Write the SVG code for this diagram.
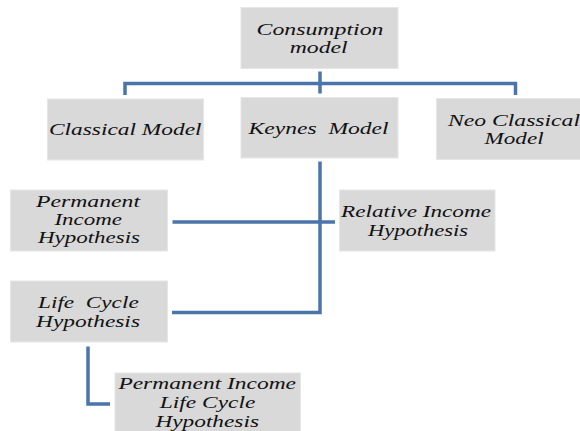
<svg xmlns="http://www.w3.org/2000/svg" width="580" height="431" viewBox="0 0 580 431">
<style>
.box{fill:#d9d9d9;stroke:#e6e6e6;stroke-width:1}
.t{font-family:"Liberation Serif","Times New Roman",serif;font-style:italic;font-size:17.5px;fill:#111}
.c{fill:none;stroke:#4a74aa;stroke-width:3.5;stroke-linejoin:miter;stroke-linecap:butt}
</style>
<rect width="580" height="431" fill="#fff"/>
<g id="connectors">
<path class="c" d="M125,95 V83.5 H515.5 V95"/>
<path class="c" d="M320,71.5 V93.5"/>
<path class="c" d="M320,161.5 V312.5 H172"/>
<path class="c" d="M172.5,222 H335"/>
<path class="c" d="M88,346.5 V404 H110"/>
</g>
<g id="consumption">
<rect class="box" x="241" y="7.5" width="157" height="61"/>
<text class="t" x="256.5" y="35" textLength="127" lengthAdjust="spacingAndGlyphs">Consumption</text>
<text class="t" x="289.7" y="53.3" textLength="58" lengthAdjust="spacingAndGlyphs">model</text>
</g>
<g id="classical">
<rect class="box" x="47.5" y="99" width="156" height="61"/>
<text class="t" x="49" y="135" textLength="152.5" lengthAdjust="spacingAndGlyphs">Classical Model</text>
</g>
<g id="keynes">
<rect class="box" x="241" y="97.5" width="157" height="60.5"/>
<text class="t" x="248.6" y="133.5" textLength="140" lengthAdjust="spacingAndGlyphs" xml:space="preserve">Keynes  Model</text>
</g>
<g id="neoclassical">
<rect class="box" x="436.5" y="98.5" width="150" height="61"/>
<text class="t" x="448" y="125.7" textLength="132" lengthAdjust="spacingAndGlyphs">Neo Classical</text>
<text class="t" x="484.6" y="144.3" textLength="59" lengthAdjust="spacingAndGlyphs">Model</text>
</g>
<g id="permanent">
<rect class="box" x="10.5" y="190" width="157" height="61"/>
<text class="t" x="36" y="206.5" textLength="104" lengthAdjust="spacingAndGlyphs">Permanent</text>
<text class="t" x="54.4" y="224.5" textLength="67.6" lengthAdjust="spacingAndGlyphs">Income</text>
<text class="t" x="38" y="243" textLength="102" lengthAdjust="spacingAndGlyphs">Hypothesis</text>
</g>
<g id="relative">
<rect class="box" x="339.5" y="190" width="155.5" height="61"/>
<text class="t" x="341" y="216.7" textLength="150" lengthAdjust="spacingAndGlyphs">Relative Income</text>
<text class="t" x="368" y="235.7" textLength="100" lengthAdjust="spacingAndGlyphs">Hypothesis</text>
</g>
<g id="lifecycle">
<rect class="box" x="10.5" y="281" width="157" height="61"/>
<text class="t" x="38" y="307.7" textLength="100.7" lengthAdjust="spacingAndGlyphs" xml:space="preserve">Life  Cycle</text>
<text class="t" x="36" y="327.3" textLength="104" lengthAdjust="spacingAndGlyphs">Hypothesis</text>
</g>
<g id="pilc">
<rect class="box" x="115" y="373" width="185.5" height="60"/>
<text class="t" x="118.4" y="389.3" textLength="177.6" lengthAdjust="spacingAndGlyphs">Permanent Income</text>
<text class="t" x="159.8" y="408.3" textLength="95.5" lengthAdjust="spacingAndGlyphs">Life Cycle</text>
<text class="t" x="155.4" y="427" textLength="103.6" lengthAdjust="spacingAndGlyphs">Hypothesis</text>
</g>
</svg>
